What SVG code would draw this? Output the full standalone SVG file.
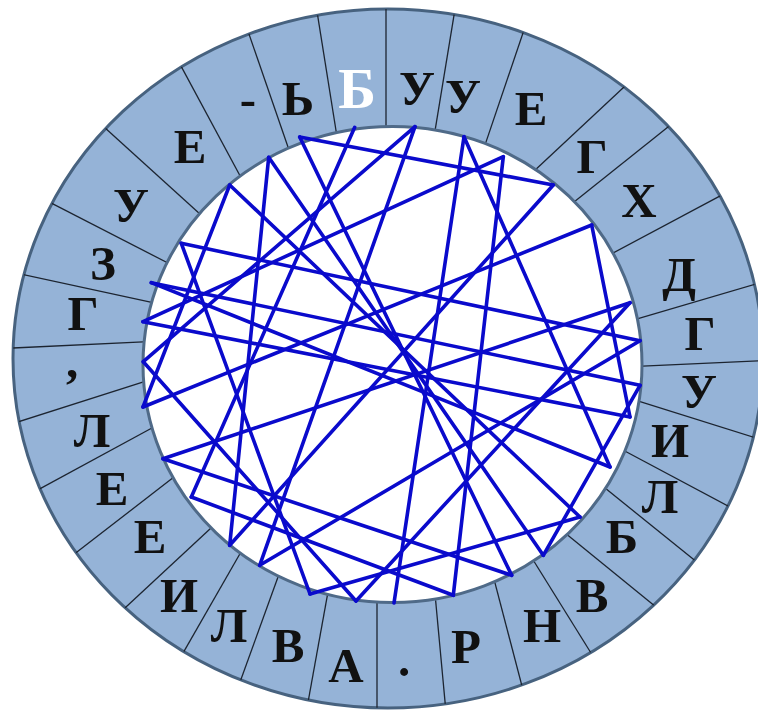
<svg xmlns="http://www.w3.org/2000/svg" width="758" height="710" viewBox="0 0 758 710">
<style>
.ring{fill:#95B3D7;stroke:#47627f;stroke-width:3}
.hole{fill:#ffffff;stroke:#4f6a88;stroke-width:3}
.div line{stroke:#1c2430;stroke-width:1.3}
.t{font-family:"Liberation Serif","Times New Roman",serif;font-weight:bold;font-size:49px;fill:#111;text-anchor:middle}
.w{fill:#ffffff;font-size:57px}
.c line{stroke:#0a0acc;stroke-width:3.6;stroke-linecap:round}
</style>
<defs>
<clipPath id="oc"><ellipse cx="388" cy="358.5" rx="375" ry="349.5"/></clipPath>
</defs>
<g id="ring">
<ellipse class="ring" cx="388" cy="358.5" rx="375" ry="349.5"/>
<g class="div" clip-path="url(#oc)">
<line x1="338" y1="143" x2="315.2" y2="0.2"/>
<line x1="289.9" y1="152.5" x2="244.3" y2="20.5"/>
<line x1="241.9" y1="179.3" x2="173.5" y2="52.1"/>
<line x1="203.8" y1="217.4" x2="88.6" y2="113"/>
<line x1="173.8" y1="266" x2="35.8" y2="195.2"/>
<line x1="156.3" y1="303.4" x2="6.3" y2="271"/>
<line x1="148.5" y1="341.7" x2="-6.4" y2="348.9"/>
<line x1="149" y1="380.1" x2="6.2" y2="425.7"/>
<line x1="153.3" y1="427.2" x2="27.3" y2="495.6"/>
<line x1="174.9" y1="476.3" x2="58.5" y2="566.3"/>
<line x1="216.4" y1="523" x2="112" y2="620"/>
<line x1="240.8" y1="552.2" x2="174.8" y2="667.4"/>
<line x1="279.9" y1="571.8" x2="234.3" y2="697.8"/>
<line x1="328" y1="591.8" x2="305.2" y2="717.8"/>
<line x1="377" y1="598" x2="377" y2="726"/>
<line x1="435.6" y1="600.2" x2="446.4" y2="716.6"/>
<line x1="493.6" y1="577.7" x2="527.2" y2="706"/>
<line x1="532.2" y1="558.5" x2="599.4" y2="666.5"/>
<line x1="565.7" y1="533.5" x2="668.9" y2="617.5"/>
<line x1="600.4" y1="484.3" x2="712" y2="574.3"/>
<line x1="617.7" y1="447.2" x2="746" y2="515.6"/>
<line x1="635.3" y1="400.2" x2="773.3" y2="443.4"/>
<line x1="637" y1="366.3" x2="780" y2="360"/>
<line x1="627" y1="321.8" x2="780" y2="277"/>
<line x1="607.8" y1="255.8" x2="733.8" y2="188.6"/>
<line x1="569.3" y1="205.8" x2="682.1" y2="115.8"/>
<line x1="530.6" y1="174.2" x2="637.4" y2="74.6"/>
<line x1="484.1" y1="147.6" x2="529.7" y2="13.2"/>
<line x1="435" y1="130.8" x2="457.9" y2="-8.4"/>
<line x1="386" y1="132" x2="386" y2="-9"/>
</g>
<ellipse class="hole" cx="392.5" cy="364.5" rx="249.5" ry="238"/>
</g>
<g id="s01"><text class="t w" x="357" y="108">Б</text></g>
<g id="s02"><text class="t" x="417" y="105">У</text></g>
<g id="s03"><text class="t" x="463" y="113">У</text></g>
<g id="s04"><text class="t" x="531" y="125">Е</text></g>
<g id="s05"><text class="t" x="592" y="173">Г</text></g>
<g id="s06"><text class="t" x="639" y="217">Х</text></g>
<g id="s07"><text class="t" x="679" y="291">Д</text></g>
<g id="s08"><text class="t" x="700" y="350">Г</text></g>
<g id="s09"><text class="t" x="699" y="408">У</text></g>
<g id="s10"><text class="t" x="670" y="457">И</text></g>
<g id="s11"><text class="t" x="660" y="513">Л</text></g>
<g id="s12"><text class="t" x="622" y="553">Б</text></g>
<g id="s13"><text class="t" x="592" y="612">В</text></g>
<g id="s14"><text class="t" x="542" y="642">Н</text></g>
<g id="s15"><text class="t" x="466" y="663">Р</text></g>
<g id="s16"><text class="t" x="404" y="676">.</text></g>
<g id="s17"><text class="t" x="346" y="682">А</text></g>
<g id="s18"><text class="t" x="288" y="662">В</text></g>
<g id="s19"><text class="t" x="229" y="642">Л</text></g>
<g id="s20"><text class="t" x="179" y="612">И</text></g>
<g id="s21"><text class="t" x="150" y="553">Е</text></g>
<g id="s22"><text class="t" x="112" y="505">Е</text></g>
<g id="s23"><text class="t" x="92" y="447">Л</text></g>
<g id="s24"><text class="t" x="72" y="377">,</text></g>
<g id="s25"><text class="t" x="83" y="330">Г</text></g>
<g id="s26"><text class="t" x="103" y="280">З</text></g>
<g id="s27"><text class="t" x="131" y="222">У</text></g>
<g id="s28"><text class="t" x="190" y="163">Е</text></g>
<g id="s29"><text class="t" x="248" y="115">-</text></g>
<g id="s30"><text class="t" x="298" y="115">Ь</text></g>
<g id="connectors" class="c">
<line x1="354.7" y1="127.3" x2="191.3" y2="497"/>
<line x1="191.3" y1="497" x2="453.3" y2="595.3"/>
<line x1="453.3" y1="595.3" x2="503.3" y2="156.7"/>
<line x1="503.3" y1="156.7" x2="143" y2="321.7"/>
<line x1="143" y1="321.7" x2="630" y2="417"/>
<line x1="630" y1="417" x2="591.7" y2="225"/>
<line x1="591.7" y1="225" x2="143" y2="407"/>
<line x1="143" y1="407" x2="229.7" y2="185"/>
<line x1="229.7" y1="185" x2="580" y2="517"/>
<line x1="580" y1="517" x2="310" y2="594"/>
<line x1="310" y1="594" x2="181.3" y2="243.3"/>
<line x1="181.3" y1="243.3" x2="640" y2="340.7"/>
<line x1="640" y1="340.7" x2="259.7" y2="565.3"/>
<line x1="259.7" y1="565.3" x2="415" y2="126.7"/>
<line x1="415" y1="126.7" x2="143.3" y2="361.7"/>
<line x1="143.3" y1="361.7" x2="356" y2="601"/>
<line x1="356" y1="601" x2="630" y2="302.7"/>
<line x1="630" y1="302.7" x2="163" y2="458.7"/>
<line x1="163" y1="458.7" x2="511.7" y2="575.3"/>
<line x1="511.7" y1="575.3" x2="299.7" y2="137"/>
<line x1="299.7" y1="137" x2="553.3" y2="185"/>
<line x1="553.3" y1="185" x2="229.7" y2="545.3"/>
<line x1="229.7" y1="545.3" x2="268.7" y2="157.3"/>
<line x1="268.7" y1="157.3" x2="543.3" y2="555.3"/>
<line x1="543.3" y1="555.3" x2="640" y2="385.3"/>
<line x1="640" y1="385.3" x2="151.3" y2="282.7"/>
<line x1="151.3" y1="282.7" x2="610" y2="467"/>
<line x1="610" y1="467" x2="464" y2="136.7"/>
<line x1="464" y1="136.7" x2="394" y2="603"/>
</g>
</svg>
